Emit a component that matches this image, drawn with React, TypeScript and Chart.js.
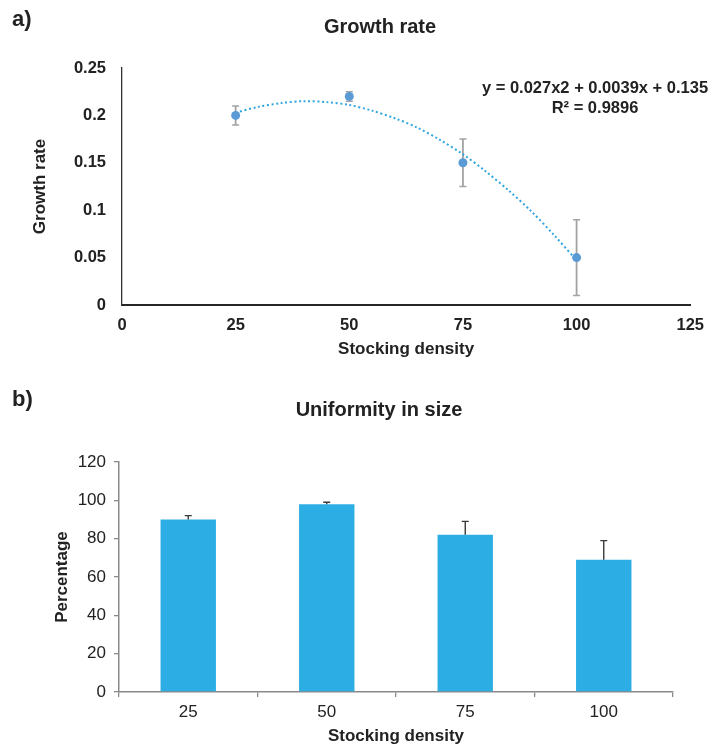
import React, { useEffect, useRef } from "react";
import { Chart, registerables } from "chart.js";

Chart.register(...registerables);

const FONT = '"Liberation Sans", Arial, Helvetica, sans-serif';
const TEXT = "#222222";

// ---------- Panel a: growth rate ----------
const densityA = [25, 50, 75, 100];
const growthRate = [0.2, 0.22, 0.15, 0.05];
const growthErr = [0.01, 0.005, 0.025, 0.04];
// polynomial trend line
const trendDensity = [25, 30, 35, 40, 45, 50, 55, 60, 65, 70, 75, 80, 85, 90, 95, 100];
const trendRate = [0.203, 0.209, 0.213, 0.215, 0.214, 0.211, 0.205, 0.197, 0.187, 0.174, 0.159, 0.141, 0.121, 0.099, 0.074, 0.047];
const equationText = "y = 0.027x2 + 0.0039x + 0.135";
const r2Text = "R² = 0.9896";

// ---------- Panel b: uniformity ----------
const categoriesB = ["25", "50", "75", "100"];
const uniformity = [90, 98, 82, 69];
const uniformityErr = [2, 1, 7, 10];

type TextItem = { text: string; x: number; y: number; size: number; weight: string; align: CanvasTextAlign };

const textPlugin = (id: string, items: TextItem[]) => ({
  id,
  afterDraw(chart: any) {
    const ctx = chart.ctx as CanvasRenderingContext2D;
    ctx.save();
    for (const it of items) {
      ctx.font = `${it.weight} ${it.size}px ${FONT}`;
      ctx.fillStyle = TEXT;
      ctx.textAlign = it.align;
      ctx.textBaseline = "middle";
      ctx.fillText(it.text, it.x, it.y);
    }
    ctx.restore();
  },
});

function PanelA() {
  const ref = useRef<HTMLCanvasElement>(null);
  useEffect(() => {
    const errPlugin = {
      id: "errA",
      beforeDatasetsDraw(chart: any) {
        const ctx = chart.ctx as CanvasRenderingContext2D;
        const xs = chart.scales.x;
        const ys = chart.scales.y;
        ctx.save();
        ctx.strokeStyle = "#A3A3A3";
        for (let i = 0; i < densityA.length; i++) {
          const px = xs.getPixelForValue(densityA[i]);
          const top = ys.getPixelForValue(growthRate[i] + growthErr[i]);
          const bot = ys.getPixelForValue(growthRate[i] - growthErr[i]);
          ctx.lineWidth = 1.8;
          ctx.beginPath();
          ctx.moveTo(px, top);
          ctx.lineTo(px, bot);
          ctx.stroke();
          ctx.lineWidth = 1.5;
          ctx.beginPath();
          ctx.moveTo(px - 3.5, top);
          ctx.lineTo(px + 3.5, top);
          ctx.moveTo(px - 3.5, bot);
          ctx.lineTo(px + 3.5, bot);
          ctx.stroke();
        }
        ctx.restore();
      },
    };
    const labels = textPlugin("textA", [
      { text: "a)", x: 12, y: 20, size: 22, weight: "bold", align: "left" },
      { text: "Growth rate", x: 380, y: 27, size: 20, weight: "bold", align: "center" },
      { text: equationText, x: 595, y: 88, size: 16.5, weight: "bold", align: "center" },
      { text: r2Text, x: 595, y: 108, size: 16.5, weight: "bold", align: "center" },
    ]);
    const chart = new Chart(ref.current!, {
      type: "scatter",
      data: {
        datasets: [
          {
            type: "scatter",
            data: densityA.map((d, i) => ({ x: d, y: growthRate[i] })),
            backgroundColor: "#5B9BD5",
            borderWidth: 0,
            pointRadius: 4.5,
          },
          {
            type: "line",
            data: trendDensity.map((d, i) => ({ x: d, y: trendRate[i] })),
            borderColor: "#2FA6DF",
            borderWidth: 2,
            borderDash: [2, 2.6],
            pointRadius: 0,
            tension: 0.3,
            fill: false,
          },
        ],
      } as any,
      options: {
        animation: false,
        responsive: false,
        events: [],
        layout: { padding: { left: 20, right: 22, top: 68, bottom: 5 } },
        plugins: { legend: { display: false }, tooltip: { enabled: false } },
        scales: {
          x: {
            type: "linear",
            min: 0,
            max: 125,
            afterFit: (s: any) => { s.height = 60; },
            grid: { display: false, drawTicks: false },
            border: { display: true, color: "#262626", width: 2 },
            ticks: { stepSize: 25, padding: 11, color: TEXT, font: { family: FONT, size: 16.5, weight: "bold" } },
            title: {
              display: true,
              text: "Stocking density",
              color: TEXT,
              font: { family: FONT, size: 17, weight: "bold" },
              padding: { top: 0, bottom: 5 },
            },
          },
          y: {
            type: "linear",
            min: 0,
            max: 0.25,
            afterFit: (s: any) => { s.width = 102; },
            grid: { display: false, drawTicks: false },
            border: { display: true, color: "#333333", width: 1.3 },
            ticks: {
              stepSize: 0.05,
              padding: 16,
              color: TEXT,
              font: { family: FONT, size: 16.5, weight: "bold" },
              callback: (v: any) => String(Number(Number(v).toFixed(2))),
            },
            title: {
              display: true,
              text: "Growth rate",
              color: TEXT,
              font: { family: FONT, size: 17, weight: "bold" },
              padding: { top: 10, bottom: 0 },
            },
          },
        },
      } as any,
      plugins: [errPlugin, labels],
    });
    return () => chart.destroy();
  }, []);
  return (
    <canvas
      ref={ref}
      width={715}
      height={370}
      style={{ position: "absolute", left: 0, top: 0, width: 715, height: 370 }}
    />
  );
}

function PanelB() {
  const ref = useRef<HTMLCanvasElement>(null);
  useEffect(() => {
    const errPlugin = {
      id: "errB",
      afterDatasetsDraw(chart: any) {
        const ctx = chart.ctx as CanvasRenderingContext2D;
        const ys = chart.scales.y;
        const meta = chart.getDatasetMeta(0);
        ctx.save();
        ctx.strokeStyle = "#3A3A3A";
        ctx.lineWidth = 1.4;
        meta.data.forEach((el: any, i: number) => {
          const px = el.x;
          const top = ys.getPixelForValue(uniformity[i] + uniformityErr[i]);
          const base = ys.getPixelForValue(uniformity[i]);
          ctx.beginPath();
          ctx.moveTo(px, base);
          ctx.lineTo(px, top);
          ctx.moveTo(px - 3.5, top);
          ctx.lineTo(px + 3.5, top);
          ctx.stroke();
        });
        ctx.restore();
      },
    };
    const labels = textPlugin("textB", [
      { text: "b)", x: 12, y: 30, size: 22, weight: "bold", align: "left" },
      { text: "Uniformity in size", x: 379, y: 40, size: 20, weight: "bold", align: "center" },
    ]);
    const chart = new Chart(ref.current!, {
      type: "bar",
      data: {
        labels: categoriesB,
        datasets: [
          {
            data: uniformity,
            backgroundColor: "#2CAEE4",
            borderWidth: 0,
            barPercentage: 0.4,
            categoryPercentage: 1,
          },
        ],
      },
      options: {
        animation: false,
        responsive: false,
        events: [],
        layout: { padding: { left: 40, right: 42, top: 92, bottom: 0 } },
        plugins: { legend: { display: false }, tooltip: { enabled: false } },
        scales: {
          x: {
            type: "category",
            offset: true,
            afterFit: (s: any) => { s.height = 55; },
            grid: { display: true, offset: true, drawOnChartArea: false, drawTicks: true, tickLength: 5, color: "#8A8A8A", lineWidth: 1.3 },
            border: { display: true, color: "#8A8A8A", width: 1.5 },
            ticks: { padding: 5.5, color: TEXT, font: { family: FONT, size: 17 } },
            title: {
              display: true,
              text: "Stocking density",
              color: TEXT,
              font: { family: FONT, size: 17, weight: "bold" },
              padding: { top: 0, bottom: 0 },
            },
          },
          y: {
            type: "linear",
            min: 0,
            max: 120,
            afterFit: (s: any) => { s.width = 79; },
            grid: { display: true, drawOnChartArea: false, drawTicks: true, tickLength: 5, color: "#8A8A8A", lineWidth: 1.3 },
            border: { display: true, color: "#8A8A8A", width: 1.5 },
            ticks: { stepSize: 20, padding: 8, color: TEXT, font: { family: FONT, size: 17 } },
            title: {
              display: true,
              text: "Percentage",
              color: TEXT,
              font: { family: FONT, size: 17, weight: "bold" },
              padding: { top: 11.8, bottom: 0 },
            },
          },
        },
      } as any,
      plugins: [errPlugin, labels],
    });
    return () => chart.destroy();
  }, []);
  return (
    <canvas
      ref={ref}
      width={715}
      height={377}
      style={{ position: "absolute", left: 0, top: 370, width: 715, height: 377 }}
    />
  );
}

export default function App() {
  return (
    <div style={{ position: "absolute", left: 0, top: 0, width: 715, height: 747, background: "#ffffff" }}>
      <PanelA />
      <PanelB />
    </div>
  );
}
